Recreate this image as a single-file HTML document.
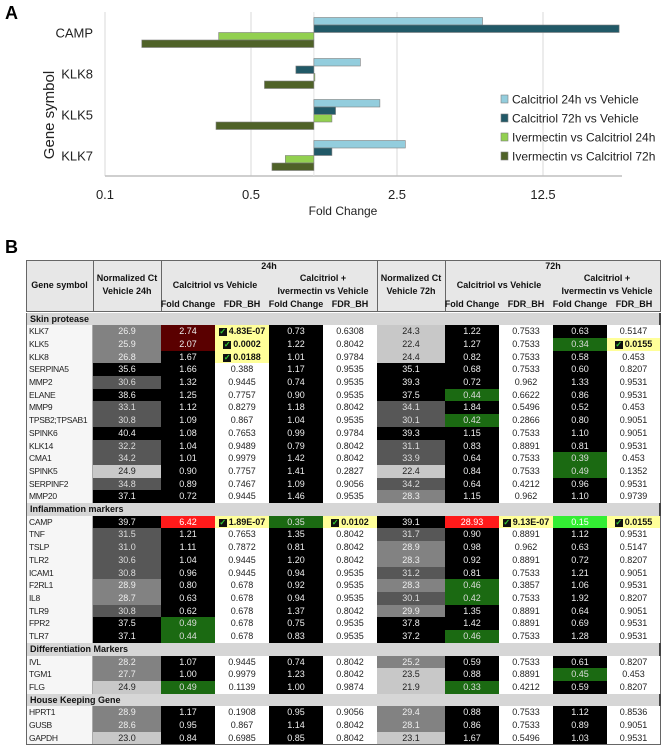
<!DOCTYPE html>
<html><head><meta charset="utf-8">
<style>
html,body{margin:0;padding:0;background:#fff;}
body{width:663px;height:746px;position:relative;overflow:hidden;font-family:"Liberation Sans",sans-serif;}
#chart{position:absolute;left:0;top:0;}
.c{position:absolute;box-sizing:border-box;font-size:9px;text-align:center;white-space:nowrap;overflow:hidden;}
.h{position:absolute;font-size:9px;font-weight:bold;text-align:center;white-space:nowrap;color:#111;}
.chk{display:inline-block;width:8px;height:8px;background:#111;color:#3c3;font-size:8px;line-height:8px;vertical-align:middle;margin-right:2px;font-weight:bold;}
</style></head><body>
<div style="position:absolute;left:5px;top:3px;font-size:18px;font-weight:bold;">A</div>
<svg id="chart" width="663" height="230" xmlns="http://www.w3.org/2000/svg"></svg>
<div style="position:absolute;left:5px;top:237px;font-size:18px;font-weight:bold;">B</div>
<div id="tbl"></div>
<script>
// ---- chart data ----
const categories = ["CAMP","KLK8","KLK5","KLK7"];
const seriesNames = ["Calcitriol 24h vs Vehicle","Calcitriol 72h vs Vehicle","Ivermectin vs Calcitriol 24h","Ivermectin vs Calcitriol 72h"];
const cal24 = [6.42, 1.67, 2.07, 2.74];
const cal72 = [28.93, 0.82, 1.27, 1.22];
const iver24 = [0.35, 1.01, 1.22, 0.73];
const iver72 = [0.15, 0.58, 0.34, 0.63];
const tickValues = [0.1, 0.5, 2.5, 12.5];
const tickLabels = ["0.1","0.5","2.5","12.5"];
const colors = ["#93CDDD","#215967","#92D050","#4F6228"];

const svg = document.getElementById('chart');
const NS = "http://www.w3.org/2000/svg";
const plotTop = 12, plotBottom = 176, x0 = 105, perFive = 146;
function xs(v){ return x0 + Math.log(v/0.1)/Math.log(5)*perFive; }
const band = (plotBottom-plotTop)/categories.length;
function yband(i){ return plotTop + band*i; }
function mk(tag, attrs){ const e=document.createElementNS(NS,tag); for(const k in attrs) e.setAttribute(k,attrs[k]); svg.appendChild(e); return e; }

tickValues.forEach((t,i)=>{
  const g = mk('line',{x1:xs(t),x2:xs(t),y1:plotTop,y2:plotBottom,stroke:'#d9d9d9','stroke-width':1});
  
  
  const tx = mk('text',{x:xs(t),y:199,'font-size':13,'text-anchor':'middle',fill:'#222'});
  tx.textContent = tickLabels[i];
  
  
});
const ax = mk('line',{x1:x0,x2:622,y1:plotBottom,y2:plotBottom,stroke:'#bfbfbf','stroke-width':1.5});


const bl = mk('line',{x1:xs(1),x2:xs(1),y1:plotTop,y2:plotBottom,stroke:'#e4e4e4','stroke-width':1});



const series = [cal24, cal72, iver24, iver72];
const barH = 7.5, pad = (band - 4*barH)/2;
categories.forEach((c,i)=>{
  series.forEach((s,j)=>{
    const v = s[i];
    const xa = Math.min(xs(1), xs(v)), w = Math.abs(xs(v)-xs(1));
    const r = mk('rect',{x:xa,y:yband(i)+pad+j*barH,width:Math.max(w,1),height:barH,fill:colors[j],stroke:'#7f7f7f','stroke-width':0.6});
    
    
  });
  const lab = mk('text',{x:93,y:yband(i)+band/2+5,'font-size':13,'text-anchor':'end',fill:'#222'});
  lab.textContent = c;
  
  
});
const yt = mk('text',{x:0,y:0,'font-size':15,'text-anchor':'middle',fill:'#222',transform:'translate(54,115) rotate(-90)'});
yt.textContent = "Gene symbol";


const xt = mk('text',{x:343,y:215,'font-size':12,'text-anchor':'middle',fill:'#222'});
xt.textContent = "Fold Change";


seriesNames.forEach((n,j)=>{
  const y = 99 + j*19;
  const sw = mk('rect',{x:501,y:y-4,width:7,height:8,fill:colors[j],stroke:'#7f7f7f','stroke-width':0.6});
  
  
  const t = mk('text',{x:512,y:y+4.5,'font-size':12,fill:'#222'});
  t.textContent = n;
  
  
});

// ---- table ----
const rows = [
"Skin protease",
["KLK7","26.9","2.74","4.83E-07","0.73","0.6308","24.3","1.22","0.7533","0.63","0.5147"],
["KLK5","25.9","2.07","0.0002","1.22","0.8042","22.4","1.27","0.7533","0.34","0.0155"],
["KLK8","26.8","1.67","0.0188","1.01","0.9784","24.4","0.82","0.7533","0.58","0.453"],
["SERPINA5","35.6","1.66","0.388","1.17","0.9535","35.1","0.68","0.7533","0.60","0.8207"],
["MMP2","30.6","1.32","0.9445","0.74","0.9535","39.3","0.72","0.962","1.33","0.9531"],
["ELANE","38.6","1.25","0.7757","0.90","0.9535","37.5","0.44","0.6622","0.86","0.9531"],
["MMP9","33.1","1.12","0.8279","1.18","0.8042","34.1","1.84","0.5496","0.52","0.453"],
["TPSB2;TPSAB1","30.8","1.09","0.867","1.04","0.9535","30.1","0.42","0.2866","0.80","0.9051"],
["SPINK6","40.4","1.08","0.7653","0.99","0.9784","39.3","1.15","0.7533","1.10","0.9051"],
["KLK14","32.2","1.04","0.9489","0.79","0.8042","31.1","0.83","0.8891","0.81","0.9531"],
["CMA1","34.2","1.01","0.9979","1.42","0.8042","33.9","0.64","0.7533","0.39","0.453"],
["SPINK5","24.9","0.90","0.7757","1.41","0.2827","22.4","0.84","0.7533","0.49","0.1352"],
["SERPINF2","34.8","0.89","0.7467","1.09","0.9056","34.2","0.64","0.4212","0.96","0.9531"],
["MMP20","37.1","0.72","0.9445","1.46","0.9535","28.3","1.15","0.962","1.10","0.9739"],
"Inflammation markers",
["CAMP","39.7","6.42","1.89E-07","0.35","0.0102","39.1","28.93","9.13E-07","0.15","0.0155"],
["TNF","31.5","1.21","0.7653","1.35","0.8042","31.7","0.90","0.8891","1.12","0.9531"],
["TSLP","31.0","1.11","0.7872","0.81","0.8042","28.9","0.98","0.962","0.63","0.5147"],
["TLR2","30.6","1.04","0.9445","1.20","0.8042","28.3","0.92","0.8891","0.72","0.8207"],
["ICAM1","30.8","0.96","0.9445","0.94","0.9535","31.2","0.81","0.7533","1.21","0.9051"],
["F2RL1","28.9","0.80","0.678","0.92","0.9535","28.3","0.46","0.3857","1.06","0.9531"],
["IL8","28.7","0.63","0.678","0.94","0.9535","30.1","0.42","0.7533","1.92","0.8207"],
["TLR9","30.8","0.62","0.678","1.37","0.8042","29.9","1.35","0.8891","0.64","0.9051"],
["FPR2","37.5","0.49","0.678","0.75","0.9535","37.8","1.42","0.8891","0.69","0.9531"],
["TLR7","37.1","0.44","0.678","0.83","0.9535","37.2","0.46","0.7533","1.28","0.9531"],
"Differentiation Markers",
["IVL","28.2","1.07","0.9445","0.74","0.8042","25.2","0.59","0.7533","0.61","0.8207"],
["TGM1","27.7","1.00","0.9979","1.23","0.8042","23.5","0.88","0.8891","0.45","0.453"],
["FLG","24.9","0.49","0.1139","1.00","0.9874","21.9","0.33","0.4212","0.59","0.8207"],
"House Keeping Gene",
["HPRT1","28.9","1.17","0.1908","0.95","0.9056","29.4","0.88","0.7533","1.12","0.8536"],
["GUSB","28.6","0.95","0.867","1.14","0.8042","28.1","0.86","0.7533","0.89","0.9051"],
["GAPDH","23.0","0.84","0.6985","0.85","0.8042","23.1","1.67","0.5496","1.03","0.9531"]
];
const colX = [26,93,161,215,269,323,377,445,499,553,607,661];
const tbl = document.getElementById('tbl');
function div(cls, l, t, w, h, txt, st){
  const d=document.createElement('div'); d.className=cls;
  d.style.left=l+'px'; d.style.top=t+'px'; if(w!=null) d.style.width=w+'px';
  if(h!=null){d.style.height=h+'px'; d.style.lineHeight=h+'px';}
  if(st) d.style.cssText+=st; if(txt!=null) d.innerHTML=txt; tbl.appendChild(d); return d;
}
// header background
const hb = div('c',26,260,635,52,'','background:#e7e7e7;border:1px solid #666;');


[93,161,377,445].forEach(x=>{ div('c',x,260,1,52,'','background:#666;'); });
const H = (txt,cx,cy,name)=>{ const d=div('h',cx-60,cy-6,120,null,txt);   };
H('Gene symbol',59.5,286,'header-gene-symbol');
H('Normalized Ct',127,279,'header-normalized-ct-24h'); H('Vehicle 24h',127,292,'header-vehicle-24h');
H('Normalized Ct',411,279,'header-normalized-ct-72h'); H('Vehicle 72h',411,292,'header-vehicle-72h');
[[161,'24h'],[445,'72h']].forEach(([x,t])=>{
  H(t,x+108,267,'header-'+t);
  H('Calcitriol vs Vehicle',x+54,286,'header-calcitriol-vs-vehicle');
  H('Calcitriol +',x+162,279,'header-calcitriol-plus');
  H('Ivermectin vs Vehicle',x+162,292,'header-ivermectin-vs-vehicle');
  H('Fold Change',x+27,305,'header-fold-change'); H('FDR_BH',x+81,305,'header-fdr-bh');
  H('Fold Change',x+135,305,'header-fold-change'); H('FDR_BH',x+189,305,'header-fdr-bh');
});
function normColor(v){ v=parseFloat(v); if(v<25) return ['#c8c8c8','#222']; if(v<30) return ['#828282','#eee']; if(v<35) return ['#575757','#ddd']; return ['#000','#eee']; }
function fcColor(v){ v=parseFloat(v); if(v>=5) return ['#ff1a1a','#fff']; if(v>=2) return ['#5a0000','#eee']; if(v<0.2) return ['#33ee33','#fff']; if(v<0.5) return ['#1b6a12','#ddd']; return ['#000','#eee']; }
let y = 312.6;
const rh = 12.7;
rows.forEach(r=>{
  const top = Math.round(y), hh = Math.round(y+rh)-top;
  if(typeof r==='string'){
    const s = div('c',26,top,635,hh,r,'background:#d6d6d6;text-align:left;padding-left:3px;font-weight:bold;color:#111;border-right:2px solid #444;border-left:1px solid #666;');
    
    
  } else {
    for(let k=0;k<11;k++){
      const l=colX[k], w=colX[k+1]-colX[k];
      let bg='#fff', fg='#222', txt=r[k], st='';
      if(k===0){ bg='#f6f6f6'; st='text-align:left;padding-left:2px;border-left:1px solid #666;border-right:1px solid #aaa;font-size:8.5px;letter-spacing:-0.3px;'; }
      else if(k===1||k===6){ [bg,fg]=normColor(r[k]); }
      else if(k===2||k===4||k===7||k===9){ [bg,fg]=fcColor(r[k]); }
      else { if(parseFloat(r[k])<0.05){ bg='#ffff99'; txt='<span class="chk">✓</span><b>'+r[k]+'</b>'; fg='#111'; } }
      if(k===10) st+='border-right:1px solid #666;';
      const c = div('c',l,top,w,hh,txt,'background:'+bg+';color:'+fg+';'+st);
      
      
    }
  }
  y += rh;
});
const bb = div('c',26,Math.round(y),635,1,'','background:#666;');


</script>
</body></html>
